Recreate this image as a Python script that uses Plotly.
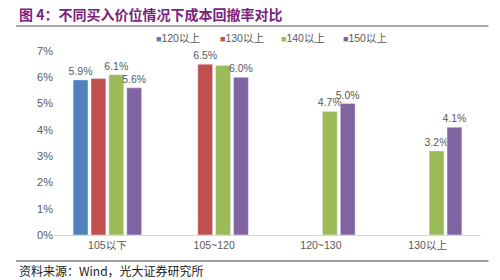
import plotly.graph_objects as go

categories = ["105以下", "105~120", "120~130", "130以上"]
series_names = ["120以上", "130以上", "140以上", "150以上"]
s120 = [5.9, None, None, None]
s130 = [5.95, 6.5, None, None]
s140 = [6.1, 6.45, 4.7, 3.2]
s150 = [5.6, 6.0, 5.0, 4.1]
# which values carry a data label in the original
labels_shown = [
    [True, False, False, False],
    [False, True, False, False],
    [True, False, True, True],
    [True, True, True, True],
]
colors = ["#4F81BD", "#C0504D", "#9BBB59", "#8064A2"]
y_ticks = [0, 1, 2, 3, 4, 5, 6, 7]

title_text = "图 4：不同买入价位情况下成本回撤率对比"
source_text = "资料来源：Wind，光大证券研究所"

FONT_LAT = "Liberation Sans, Arial, Noto Sans CJK SC, sans-serif"
FONT_CJK = "Noto Sans CJK SC, sans-serif"
GRAY = "#595959"

fig = go.Figure()
for name, vals, shown, col in zip(series_names, [s120, s130, s140, s150], labels_shown, colors):
    txt = [f"{v:.1f}%" if (v is not None and s) else "" for v, s in zip(vals, shown)]
    fig.add_trace(go.Bar(
        x=categories, y=vals, name=name, marker_color=col,
        text=txt, textposition="outside", cliponaxis=False, constraintext="none",
        textfont=dict(size=10.5, color=GRAY, family=FONT_LAT),
        showlegend=False,
    ))

# plot-area geometry (pixels) used to place decorations
L, R, T, B = 54, 18.5, 51, 45
W, H = 500 - L - R, 280 - T - B
px = lambda x: (x - L) / W
py = lambda y: (280 - B - y) / H

fig.update_layout(
    width=500, height=280,
    margin=dict(l=L, r=R, t=T, b=B),
    paper_bgcolor="white", plot_bgcolor="white",
    barmode="group", bargap=0.33, bargroupgap=0.17,
    font=dict(family=FONT_LAT, color=GRAY, size=10.5),
    xaxis=dict(type="category", showline=True, linecolor="#D9D9D9", linewidth=1,
               ticks="", showgrid=False, tickfont=dict(size=10.5, color=GRAY)),
    yaxis=dict(range=[0, 7], tickvals=y_ticks, ticktext=[f"{t}%" for t in y_ticks],
               showgrid=False, zeroline=False, showline=False, ticks="",
               tickfont=dict(size=11, color=GRAY)),
)

# title
fig.add_annotation(text=f"<b>{title_text}</b>", xref="paper", yref="paper",
                   x=px(17), y=py(14), xanchor="left", yanchor="middle", showarrow=False,
                   font=dict(family=FONT_CJK, size=14, color="#7B1F7E"))
# source
fig.add_annotation(text=source_text, xref="paper", yref="paper",
                   x=px(17), y=py(270), xanchor="left", yanchor="middle", showarrow=False,
                   font=dict(family=FONT_CJK, size=12, color="#1a1a1a"))
# rules
for yy, col in [(26, "#8C8C8C"), (261, "#7F7F7F")]:
    fig.add_shape(type="line", xref="paper", yref="paper",
                  x0=px(16), x1=px(489), y0=py(yy), y1=py(yy),
                  line=dict(color=col, width=1.6))

# legend
legend_x = [154, 218, 279, 341]
for name, col, lx in zip(series_names, colors, legend_x):
    fig.add_annotation(
        text=f"<span style='color:{col};font-size:9px'>■</span>{name}",
        xref="paper", yref="paper", x=px(lx), y=py(38), xanchor="left", yanchor="middle",
        showarrow=False, font=dict(family=FONT_LAT, size=10.5, color=GRAY))

fig.write_html("out.html")
